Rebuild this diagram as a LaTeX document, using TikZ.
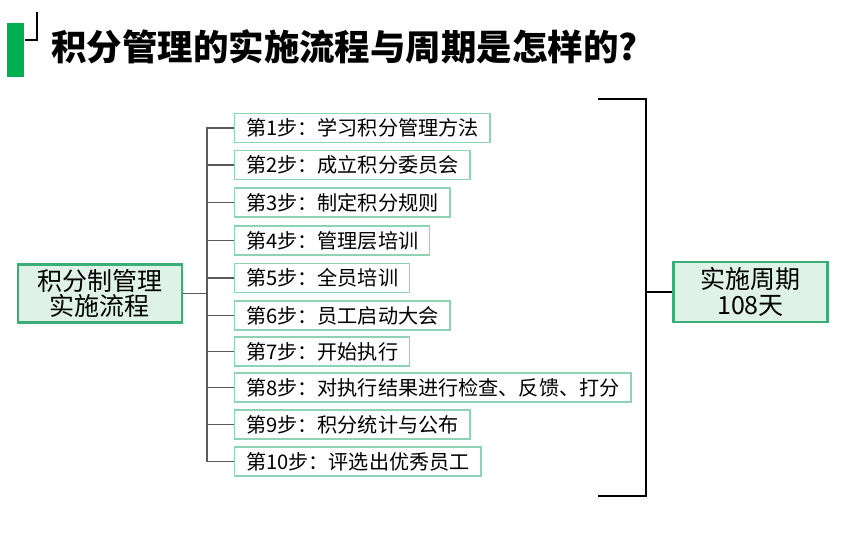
\documentclass[tikz,border=0pt]{standalone}
\usepackage{fontspec}
\setmainfont{Noto Sans CJK SC}
\usepackage{xcolor}
\usepackage{tikz}
\usetikzlibrary{positioning, calc}
\definecolor{titlegreen}{RGB}{0,176,80}
\definecolor{mainline}{RGB}{59,174,120}
\definecolor{mainfill}{RGB}{222,242,232}
\definecolor{stepline}{RGB}{142,211,178}
\definecolor{trunkgray}{RGB}{90,90,90}

\tikzset{
    mainbox/.style={draw=mainline, line width=2.2pt, fill=mainfill, align=center,
        font=\fontsize{18.75}{19}\selectfont, inner sep=0pt},
    stepbox/.style={draw=stepline, line width=1.1pt, fill=white, anchor=west,
        minimum height=21.8pt, inner xsep=8.5pt, inner ysep=0pt,
        font=\fontsize{15.1}{15}\selectfont},
    branch/.style={draw=trunkgray, line width=1.1pt},
    bracket/.style={draw=black, line width=2.2pt}
}

\begin{document}
\begin{tikzpicture}[x=0.75pt, y=-0.75pt]
    \useasboundingbox (0,0) rectangle (844,548);

    % title
    \fill[titlegreen] (7,23) rectangle (24,77);
    \coordinate (tc) at (37,12);
    \draw[line width=0.8pt] (25,40) -| (tc);
    \node[anchor=west, inner sep=0pt, font=\fontsize{26.6}{27}\bfseries\selectfont]
        (title) at (51,47) {积分管理的实施流程与周期是怎样的?};

    % left and right boxes
    \node[mainbox, minimum width=123pt, minimum height=44pt] (proc) at (100,293.5)
        {积分制管理\\实施流程};
    \node[mainbox, minimum width=116pt, minimum height=45pt] (cyc) at (750.5,292)
        {实施周期\\108天};

    % steps
    \node[stepbox] (s1)  at (234,128)   {第1步：学习积分管理方法};
    \node[stepbox] (s2)  at (234,165)   {第2步：成立积分委员会};
    \node[stepbox] (s3)  at (234,202.5) {第3步：制定积分规则};
    \node[stepbox] (s4)  at (234,240.5) {第4步：管理层培训};
    \node[stepbox] (s5)  at (234,278)   {第5步：全员培训};
    \node[stepbox] (s6)  at (234,315.5) {第6步：员工启动大会};
    \node[stepbox] (s7)  at (234,351.5) {第7步：开始执行};
    \node[stepbox] (s8)  at (234,387.5) {第8步：对执行结果进行检查、反馈、打分};
    \node[stepbox] (s9)  at (234,424.5) {第9步：积分统计与公布};
    \node[stepbox] (s10) at (234,461.5) {第10步：评选出优秀员工};

    % trunk
    \coordinate (tk) at (207,0);
    \draw[branch] (s1.west) -- (s1.west -| tk) -- (s10.west -| tk) -- (s10.west);
    \draw[branch] (proc.east) -- (proc.east -| tk);
    \foreach \n in {2,...,9}
        \draw[branch] (s\n.west) -- (s\n.west -| tk);

    % bracket
    \coordinate (bt) at (598,99);
    \coordinate (bb) at (598,496);
    \coordinate (bx) at (646,0);
    \draw[bracket] (bt) -- (bt -| bx) -- (bb -| bx) -- (bb);
    \draw[bracket] (cyc.west) -- (cyc.west -| bx);
\end{tikzpicture}
\end{document}
